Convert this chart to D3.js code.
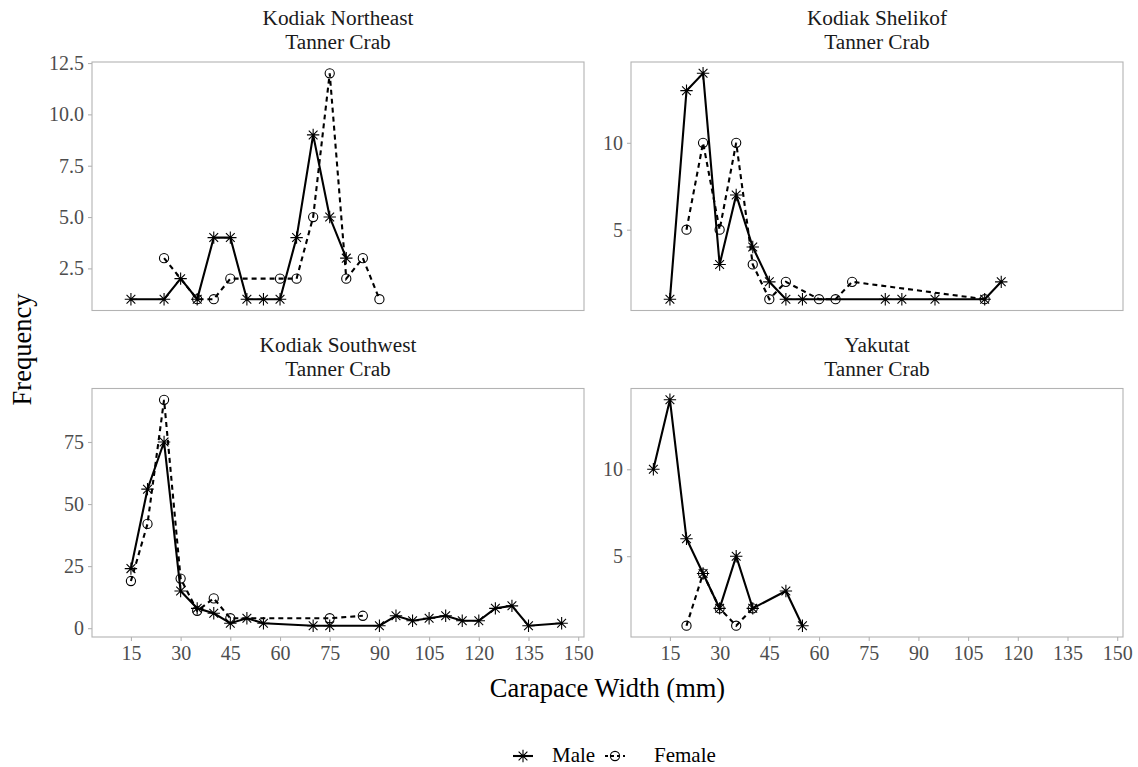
<!DOCTYPE html>
<html>
<head>
<meta charset="utf-8">
<script src="https://cdn.jsdelivr.net/npm/d3@7"></script>
<style>
  html, body { margin: 0; padding: 0; background: #fff; }
  svg text { font-family: "Liberation Serif", "Times New Roman", serif; }
</style>
</head>
<body>
<svg id="chart" width="1138" height="767"></svg>
<script>
// Panel titles (two lines each)
const panelTitles = [
  ["Kodiak Northeast", "Tanner Crab"],
  ["Kodiak Shelikof", "Tanner Crab"],
  ["Kodiak Southwest", "Tanner Crab"],
  ["Yakutat", "Tanner Crab"]
];

// Carapace width bins (mm) and counts, per area and sex
const neMaleWidth   = [15, 25, 30, 35, 40, 45, 50, 55, 60, 65, 70, 75, 80];
const neMaleFreq    = [1, 1, 2, 1, 4, 4, 1, 1, 1, 4, 9, 5, 3];
const neFemaleWidth = [25, 35, 40, 45, 60, 65, 70, 75, 80, 85, 90];
const neFemaleFreq  = [3, 1, 1, 2, 2, 2, 5, 12, 2, 3, 1];

const shMaleWidth   = [15, 20, 25, 30, 35, 40, 45, 50, 55, 80, 85, 95, 110, 115];
const shMaleFreq    = [1, 13, 14, 3, 7, 4, 2, 1, 1, 1, 1, 1, 1, 2];
const shFemaleWidth = [20, 25, 30, 35, 40, 45, 50, 60, 65, 70, 110];
const shFemaleFreq  = [5, 10, 5, 10, 3, 1, 2, 1, 1, 2, 1];

const swMaleWidth   = [15, 20, 25, 30, 35, 40, 45, 50, 55, 70, 75, 90, 95, 100, 105, 110, 115, 120, 125, 130, 135, 145];
const swMaleFreq    = [24, 56, 75, 15, 8, 6, 2, 4, 2, 1, 1, 1, 5, 3, 4, 5, 3, 3, 8, 9, 1, 2];
const swFemaleWidth = [15, 20, 25, 30, 35, 40, 45, 75, 85];
const swFemaleFreq  = [19, 42, 92, 20, 7, 12, 4, 4, 5];

const yaMaleWidth   = [10, 15, 20, 25, 30, 35, 40, 50, 55];
const yaMaleFreq    = [10, 14, 6, 4, 2, 5, 2, 3, 1];
const yaFemaleWidth = [20, 25, 30, 35, 40];
const yaFemaleFreq  = [1, 4, 2, 1, 2];

// Axis ticks
const xTicks = [15, 30, 45, 60, 75, 90, 105, 120, 135, 150];
const yTicksNE = [2.5, 5.0, 7.5, 10.0, 12.5];
const yTicksSH = [5, 10];
const yTicksSW = [0, 25, 50, 75];
const yTicksYA = [5, 10];

const sexes = ["Male", "Female"];

function pairs(w, f) { return w.map((d, i) => ({ x: d, y: f[i] })); }

const panels = [
  { title: panelTitles[0], male: pairs(neMaleWidth, neMaleFreq), female: pairs(neFemaleWidth, neFemaleFreq), yTicks: yTicksNE, fmt: d3.format(".1f") },
  { title: panelTitles[1], male: pairs(shMaleWidth, shMaleFreq), female: pairs(shFemaleWidth, shFemaleFreq), yTicks: yTicksSH, fmt: d3.format("d") },
  { title: panelTitles[2], male: pairs(swMaleWidth, swMaleFreq), female: pairs(swFemaleWidth, swFemaleFreq), yTicks: yTicksSW, fmt: d3.format("d") },
  { title: panelTitles[3], male: pairs(yaMaleWidth, yaMaleFreq), female: pairs(yaFemaleWidth, yaFemaleFreq), yTicks: yTicksYA, fmt: d3.format("d") }
];

const svg = d3.select("#chart");
const border = "#b3b3b3";
const tickText = "#4d4d4d";

// Layout of the 2x2 grid
const colX = [92, 631];
const rowY = [62, 388.5];
const pw = 492, ph = 248.5;

function expand(ext) {
  const pad = (ext[1] - ext[0]) * 0.05;
  return [ext[0] - pad, ext[1] + pad];
}

// Shared x scale across all panels
const allX = panels.flatMap(p => p.male.concat(p.female).map(d => d.x));
const xDomain = expand(d3.extent(allX));

const asteriskPath = (() => {
  const r = 6.2, d = r * 0.7071;
  return `M${-r},0L${r},0M0,${-r}L0,${r}M${-d},${-d}L${d},${d}M${-d},${d}L${d},${-d}`;
})();

function drawMarker(g, sex, x, y) {
  if (sex === "Male") {
    g.append("path").attr("d", asteriskPath)
      .attr("transform", `translate(${x},${y})`)
      .attr("stroke", "#000").attr("stroke-width", 1.1).attr("fill", "none");
  } else {
    g.append("circle").attr("cx", x).attr("cy", y).attr("r", 4.6)
      .attr("stroke", "#000").attr("stroke-width", 1.1).attr("fill", "none");
  }
}

panels.forEach((p, i) => {
  const col = i % 2, row = Math.floor(i / 2);
  const x0 = colX[col], y0 = rowY[row];
  const g = svg.append("g").attr("transform", `translate(${x0},${y0})`);

  const x = d3.scaleLinear().domain(xDomain).range([0, pw]);
  const allY = p.male.concat(p.female).map(d => d.y);
  const y = d3.scaleLinear().domain(expand(d3.extent(allY))).range([ph, 0]);

  // y axis
  const ya = g.append("g").call(d3.axisLeft(y).tickValues(p.yTicks).tickFormat(p.fmt).tickSize(4).tickPadding(4));
  ya.select(".domain").remove();
  ya.selectAll("line").attr("stroke", border).attr("stroke-width", 1.1);
  ya.selectAll("text").attr("fill", tickText).style("font-size", "20px")
    .style("font-family", "'Liberation Serif', serif");

  // x axis only on the bottom row
  if (row === 1) {
    const xa = g.append("g").attr("transform", `translate(0,${ph})`)
      .call(d3.axisBottom(x).tickValues(xTicks).tickSize(4).tickPadding(5));
    xa.select(".domain").remove();
    xa.selectAll("line").attr("stroke", border).attr("stroke-width", 1.1);
    xa.selectAll("text").attr("fill", tickText).style("font-size", "20px")
      .style("font-family", "'Liberation Serif', serif");
  }

  // panel border
  g.append("rect").attr("x", 0).attr("y", 0).attr("width", pw).attr("height", ph)
    .attr("fill", "none").attr("stroke", border).attr("stroke-width", 1.1);

  // strip titles
  const cx = pw / 2;
  g.append("text").attr("x", cx).attr("y", -37).attr("text-anchor", "middle")
    .style("font-size", "21.3px").attr("fill", "#1a1a1a").text(p.title[0]);
  g.append("text").attr("x", cx).attr("y", -13).attr("text-anchor", "middle")
    .style("font-size", "21.3px").attr("fill", "#1a1a1a").text(p.title[1]);

  const line = d3.line().x(d => x(d.x)).y(d => y(d.y));
  g.append("path").datum(p.male).attr("d", line)
    .attr("fill", "none").attr("stroke", "#000").attr("stroke-width", 2.1);
  g.append("path").datum(p.female).attr("d", line)
    .attr("fill", "none").attr("stroke", "#000").attr("stroke-width", 2.1)
    .attr("stroke-dasharray", "5,4");

  p.male.forEach(d => drawMarker(g, "Male", x(d.x), y(d.y)));
  p.female.forEach(d => drawMarker(g, "Female", x(d.x), y(d.y)));
});

// Axis titles
svg.append("text").attr("x", 607.5).attr("y", 697).attr("text-anchor", "middle")
  .style("font-size", "26.5px").attr("fill", "#000").text("Carapace Width (mm)");
svg.append("text").attr("transform", "translate(31,349.5) rotate(-90)").attr("text-anchor", "middle")
  .style("font-size", "26.5px").attr("fill", "#000").text("Frequency");

// Legend
const legend = svg.append("g");
const keyY = 756;
const keyX = [513, 605];
const keyW = 20;
const labelX = [552, 654];
sexes.forEach((s, i) => {
  const ln = legend.append("line").attr("x1", keyX[i]).attr("x2", keyX[i] + keyW)
    .attr("y1", keyY).attr("y2", keyY)
    .attr("stroke", "#000").attr("stroke-width", 2.1);
  if (s === "Female") ln.attr("stroke-dasharray", "3,3");
  drawMarker(legend, s, keyX[i] + keyW / 2, keyY);
  legend.append("text").attr("x", labelX[i]).attr("y", 762)
    .style("font-size", "21px").attr("fill", "#000").text(s);
});
</script>
</body>
</html>
